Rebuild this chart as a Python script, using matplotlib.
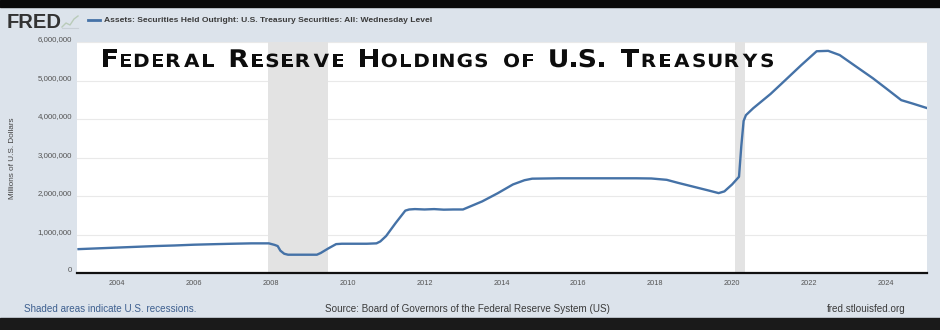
import matplotlib
matplotlib.use('Agg')
import matplotlib.pyplot as plt
from matplotlib.patches import Rectangle, PathPatch
from matplotlib.lines import Line2D
from matplotlib.textpath import TextPath
from matplotlib.font_manager import FontProperties
from matplotlib.transforms import ScaledTranslation, Affine2D, IdentityTransform

# Fed holdings of U.S. Treasury securities, millions of dollars (weekly level, sampled)
years = [2003.0, 2003.5, 2004.0, 2004.5, 2005.0, 2005.5, 2006.0, 2006.5, 2007.0,
         2007.5, 2007.95, 2008.1, 2008.18, 2008.25, 2008.35, 2008.45, 2009.2,
         2009.3, 2009.5, 2009.7, 2009.85, 2010.0, 2010.5, 2010.75, 2010.85,
         2011.0, 2011.25, 2011.5, 2011.6, 2011.75, 2012.0, 2012.25, 2012.5,
         2012.75, 2013.0, 2013.5, 2013.9, 2014.3, 2014.6, 2014.8, 2015.5,
         2016.5, 2017.5, 2017.9, 2018.3, 2018.6, 2019.0, 2019.4, 2019.65,
         2019.8, 2020.0, 2020.18, 2020.24, 2020.3, 2020.36, 2020.55, 2021.0,
         2021.3, 2021.8, 2022.0, 2022.2, 2022.5, 2022.8, 2023.2, 2023.66,
         2024.0, 2024.4, 2024.7, 2025.05]
holdings = [620000, 640000, 660000, 680000, 700000, 715000, 735000, 748000, 760000,
            770000, 770000, 730000, 700000, 580000, 500000, 475000, 475000,
            520000, 640000, 750000, 760000, 760000, 760000, 770000, 820000,
            960000, 1300000, 1620000, 1650000, 1660000, 1650000, 1660000, 1645000,
            1650000, 1650000, 1860000, 2070000, 2300000, 2410000, 2450000, 2460000,
            2460000, 2460000, 2455000, 2420000, 2340000, 2240000, 2140000, 2075000,
            2120000, 2300000, 2500000, 3300000, 3950000, 4100000, 4280000, 4650000,
            4930000, 5400000, 5580000, 5760000, 5770000, 5660000, 5380000, 5060000,
            4800000, 4490000, 4400000, 4290000]

recessions = [(2007.92, 2009.5), (2020.08, 2020.33)]
yticks = [0, 1000000, 2000000, 3000000, 4000000, 5000000, 6000000]
xticks = [2004, 2006, 2008, 2010, 2012, 2014, 2016, 2018, 2020, 2022, 2024]

title = "Federal Reserve Holdings of U.S. Treasurys"
series_name = "Assets: Securities Held Outright: U.S. Treasury Securities: All: Wednesday Level"

W, H = 940, 330
fig = plt.figure(figsize=(W / 100, H / 100), dpi=100)
fig.patch.set_facecolor('#dce3eb')

# dark bands top and bottom
fig.add_artist(Rectangle((0, 1 - 7 / H), 1, 7 / H, transform=fig.transFigure,
                         color='#0a0a0a', zorder=0))
fig.add_artist(Rectangle((0, 0), 1, 12 / H, transform=fig.transFigure,
                         color='#1a1a1a', zorder=0))

ax = fig.add_axes([77 / W, 1 - 273 / H, 850 / W, 231 / H])
ax.set_facecolor('white')

for start, end in recessions:
    ax.axvspan(start, end, color='#e3e3e3', lw=0, zorder=1)

ax.plot(years, holdings, color='#4572a7', lw=1.7, zorder=3)

ax.set_xlim(2002.96, 2025.07)
ax.set_ylim(0, 6000000)
ax.set_yticks(yticks)
ax.set_yticklabels(['{:,}'.format(v) for v in yticks])
ax.set_xticks(xticks)
ax.set_xticklabels([str(y) for y in xticks])
ax.yaxis.grid(True, color='#e9e9e9', lw=0.8, zorder=0)
ax.set_axisbelow(True)
ax.tick_params(axis='both', length=0, colors='#555555')
ax.tick_params(axis='y', pad=3.5, labelsize=5.7)
ax.tick_params(axis='x', pad=5, labelsize=5.3)
for lab in ax.get_yticklabels() + ax.get_xticklabels():
    lab.set_family('Liberation Sans')
for lab in ax.get_yticklabels():
    lab.set_transform(lab.get_transform() + ScaledTranslation(0, 3 / 100, fig.dpi_scale_trans))

for side in ['top', 'right', 'left']:
    ax.spines[side].set_visible(False)
ax.spines['bottom'].set_color('#111111')
ax.spines['bottom'].set_linewidth(1.6)
ax.spines['bottom'].set_zorder(4)

fig.text(13 / W, 1 - 158 / H, 'Millions of U.S. Dollars', rotation=90, ha='center',
         va='center', fontsize=5.9, color='#444444', family='Liberation Sans')

# header: logo and series legend
fig.text(7 / W, 1 - 28 / H, 'FRED', fontsize=14.5, fontweight='bold', color='#333333',
         family='Liberation Sans', va='baseline', ha='left')
fig.add_artist(Line2D([62 / W, 66 / W, 70 / W, 74 / W, 78 / W],
                      [1 - 27 / H, 1 - 23 / H, 1 - 25 / H, 1 - 19 / H, 1 - 16 / H],
                      transform=fig.transFigure, color='#b9cbb9', lw=1.0))
fig.add_artist(Line2D([62 / W, 78 / W], [1 - 28 / H, 1 - 28 / H],
                      transform=fig.transFigure, color='#c8cfd6', lw=0.8))
fig.add_artist(Line2D([88 / W, 100 / W], [1 - 20 / H, 1 - 20 / H],
                      transform=fig.transFigure, color='#4572a7', lw=2.0))
fig.text(104 / W, 1 - 20 / H, series_name, fontsize=6.1, fontweight='bold',
         color='#3a3a3a', family='Liberation Sans', va='center', ha='left')

# footer
fig.text(24 / W, 1 - 309 / H, 'Shaded areas indicate U.S. recessions.', fontsize=7.15,
         color='#3d5f8f', family='Liberation Sans', va='center', ha='left')
fig.text(467 / W, 1 - 309 / H,
         'Source: Board of Governors of the Federal Reserve System (US)', fontsize=7.15,
         color='#3a3a3a', family='Liberation Sans', va='center', ha='center')
fig.text(906 / W, 1 - 309 / H, 'fred.stlouisfed.org', fontsize=7.15,
         color='#3a3a3a', family='Liberation Sans', va='center', ha='right')


def small_caps(text, x0, x1, baseline, big=24.3, small=18.2, track=4.0):
    """Draw wide spaced small caps between pixel columns x0 and x1 (sizes in px)."""
    prop = FontProperties(family='DejaVu Sans', weight='bold')
    glyphs = []
    for ch in text:
        if ch == ' ':
            glyphs.append((None, 0.45 * small))
            continue
        size = big if (ch.isupper() or ch == '.') else small
        path = TextPath((0, 0), ch.upper(), size=size, prop=prop)
        ext = path.get_extents()
        glyphs.append((path, ext))
    gaps = track * (len(glyphs) - 1)
    ink = sum(g[1].width for g in glyphs if g[0] is not None)
    spaces = sum(g[1] for g in glyphs if g[0] is None)
    stretch = (x1 - x0 - gaps) / (ink + spaces)
    x = x0
    y = H - baseline
    for path, info in glyphs:
        if path is None:
            x += info * stretch + track
            continue
        tr = Affine2D().translate(-info.x0, 0).scale(stretch, 1).translate(x, y)
        fig.add_artist(PathPatch(tr.transform_path(path), transform=IdentityTransform(),
                                 facecolor='#0d0d0d', edgecolor='none', zorder=10))
        x += info.width * stretch + track


small_caps(title, 103, 773, 67)

fig.savefig('out.png', dpi=100, facecolor=fig.get_facecolor())
